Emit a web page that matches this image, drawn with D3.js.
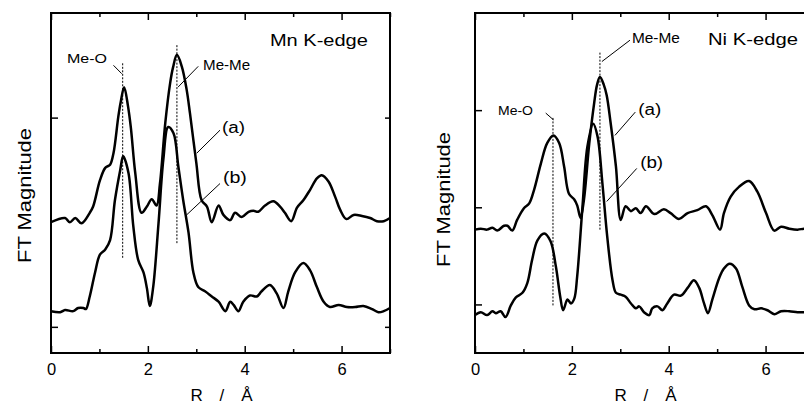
<!DOCTYPE html>
<html>
<head>
<meta charset="utf-8">
<script src="https://cdnjs.cloudflare.com/ajax/libs/d3/7.8.5/d3.min.js"></script>
<style>
    body { margin: 0; background: #fff; }
    svg { display: block; font-family: "Liberation Sans", Arial, sans-serif; }
</style>
</head>
<body>
<svg id="chart"></svg>
<script>
// R axis ticks (Å)
const R_TICKS = [0, 2, 4, 6];
const R_MINOR = [1, 3, 5, 7];

// FT magnitude (arbitrary units) as [R, value]
const MN_A = [
    [0, 1.0], [0.29, 1.04], [0.39, 1.0], [0.5, 1.04], [0.63, 0.99], [0.8, 1.09], [0.87, 1.15],
    [1.01, 1.4], [1.12, 1.52], [1.22, 1.55], [1.29, 1.66], [1.39, 2.01], [1.44, 2.15],
    [1.51, 2.29], [1.59, 2.11], [1.65, 1.9], [1.74, 1.47], [1.87, 1.09], [1.98, 1.15],
    [2.08, 1.22], [2.18, 1.16], [2.25, 1.37], [2.36, 1.95], [2.46, 2.33], [2.52, 2.48],
    [2.6, 2.6], [2.7, 2.49], [2.8, 2.27], [2.87, 2.04], [3.0, 1.57], [3.11, 1.21],
    [3.22, 1.15], [3.32, 1.0], [3.46, 1.16], [3.56, 1.07], [3.7, 1.02], [3.8, 1.09],
    [3.94, 1.05], [4.08, 1.1], [4.18, 1.11], [4.28, 1.1], [4.42, 1.16], [4.59, 1.2],
    [4.73, 1.15], [4.83, 1.09], [4.96, 1.01], [5.08, 1.14], [5.21, 1.21], [5.35, 1.31],
    [5.49, 1.42], [5.59, 1.45], [5.73, 1.39], [5.87, 1.24], [5.97, 1.12], [6.1, 1.03],
    [6.25, 1.07], [6.42, 1.06], [6.59, 1.04], [6.73, 1.01], [6.87, 1.01], [7.0, 1.04]
];
const MN_B = [
    [0, 0.15], [0.19, 0.14], [0.29, 0.16], [0.46, 0.15], [0.56, 0.18], [0.67, 0.18], [0.72, 0.17],
    [0.8, 0.29], [0.91, 0.52], [1.01, 0.69], [1.12, 0.74], [1.22, 0.83], [1.32, 1.21],
    [1.43, 1.5], [1.49, 1.63], [1.6, 1.47], [1.7, 0.96], [1.8, 0.64], [1.91, 0.52],
    [1.98, 0.37], [2.04, 0.2], [2.11, 0.38], [2.22, 0.99], [2.32, 1.6], [2.42, 1.91],
    [2.53, 1.85], [2.63, 1.53], [2.73, 1.21], [2.84, 0.9], [2.94, 0.52], [3.04, 0.38],
    [3.18, 0.34], [3.32, 0.29], [3.46, 0.24], [3.6, 0.15], [3.7, 0.24], [3.77, 0.21],
    [3.87, 0.15], [3.97, 0.24], [4.11, 0.3], [4.25, 0.29], [4.35, 0.34], [4.52, 0.4],
    [4.66, 0.32], [4.8, 0.18], [4.9, 0.34], [5.04, 0.52], [5.21, 0.61], [5.35, 0.54],
    [5.49, 0.38], [5.63, 0.24], [5.76, 0.19], [5.94, 0.21], [6.11, 0.19], [6.28, 0.19],
    [6.45, 0.2], [6.63, 0.17], [6.76, 0.14], [6.87, 0.15], [7.0, 0.18]
];
const NI_A = [
    [0, 0.77], [0.12, 0.78], [0.25, 0.77], [0.36, 0.79], [0.46, 0.76], [0.6, 0.81], [0.67, 0.81],
    [0.77, 0.76], [0.87, 0.87], [1.01, 0.99], [1.12, 1.04], [1.22, 1.18], [1.36, 1.45],
    [1.49, 1.66], [1.62, 1.74], [1.74, 1.66], [1.84, 1.42], [1.94, 1.14], [2.05, 1.08],
    [2.11, 1.02], [2.18, 0.89], [2.25, 1.08], [2.36, 1.66], [2.46, 2.07], [2.52, 2.26],
    [2.58, 2.34], [2.66, 2.26], [2.72, 2.15], [2.8, 1.87], [2.91, 1.42], [3.01, 0.87],
    [3.11, 1.01], [3.22, 0.96], [3.32, 0.99], [3.42, 0.94], [3.53, 1.01], [3.7, 0.93],
    [3.9, 0.98], [4.04, 0.94], [4.21, 0.88], [4.39, 0.94], [4.59, 0.97], [4.77, 1.01],
    [4.9, 0.92], [5.06, 0.77], [5.14, 0.94], [5.28, 1.11], [5.45, 1.21], [5.66, 1.27],
    [5.83, 1.16], [6.01, 0.94], [6.18, 0.76], [6.32, 0.8], [6.49, 0.78], [6.66, 0.77],
    [6.8, 0.78], [7.0, 0.78]
];
const NI_B = [
    [0, -0.11], [0.12, -0.08], [0.25, -0.11], [0.36, -0.07], [0.43, -0.09], [0.53, -0.07],
    [0.63, -0.13], [0.74, -0.01], [0.84, 0.07], [0.98, 0.12], [1.08, 0.22], [1.18, 0.46],
    [1.29, 0.66], [1.43, 0.73], [1.56, 0.65], [1.67, 0.39], [1.76, 0.08], [1.82, -0.06],
    [1.91, 0.05], [1.98, 0.01], [2.05, 0.06], [2.11, 0.29], [2.22, 1.01], [2.32, 1.62],
    [2.44, 1.86], [2.53, 1.73], [2.63, 1.25], [2.73, 0.7], [2.84, 0.25], [2.91, 0.12],
    [3.01, 0.1], [3.11, 0.08], [3.22, 0.01], [3.32, -0.04], [3.39, -0.02], [3.49, -0.08],
    [3.6, -0.11], [3.66, -0.04], [3.77, -0.02], [3.87, -0.06], [3.97, 0.01], [4.11, 0.1],
    [4.25, 0.09], [4.39, 0.17], [4.52, 0.25], [4.63, 0.17], [4.73, 0.01], [4.81, -0.09],
    [4.9, 0.05], [5.04, 0.27], [5.14, 0.37], [5.26, 0.42], [5.39, 0.37], [5.52, 0.18],
    [5.66, -0.01], [5.77, -0.05], [5.91, -0.04], [6.04, -0.06], [6.18, -0.1], [6.32, -0.07],
    [6.49, -0.07], [6.66, -0.08], [6.8, -0.08], [7.0, -0.07]
];

// dashed markers: [R, from, to]
const MN_MARKS = [[1.48, 0.66, 2.52], [2.6, 0.8, 2.7]];
const NI_MARKS = [[1.61, -0.01, 1.92], [2.58, 0.77, 2.6]];

const width = 804;
const height = 405;
const plotTop = 13;
const plotBottom = 353;
const plotWidth = 339;

const svg = d3.select("#chart")
    .attr("width", width)
    .attr("height", height);

const panels = [
    {
        left: 51,
        yDomain: [-0.25, 3.0],
        yTicks: [0, 2],
        series: [MN_A, MN_B],
        marks: MN_MARKS,
        title: { text: "Mn K-edge", r: 4.52, v: 2.685, len: 98 },
        labels: [
            { text: "Me-O", r: 0.33, v: 2.525, size: 13.5, len: 40, lead: [[1.29, 2.5], [1.46, 2.42]] },
            { text: "Me-Me", r: 3.14, v: 2.456, size: 14, len: 47, lead: [[3.04, 2.49], [2.62, 2.29]] },
            { text: "(a)", r: 3.53, v: 1.849, size: 16, len: 23, lead: [[3.49, 1.88], [3.01, 1.66]] },
            { text: "(b)", r: 3.55, v: 1.372, size: 16, len: 24, lead: [[3.49, 1.37], [2.8, 1.07]] }
        ],
        yLabelX: 31,
        yLabelY: 263
    },
    {
        left: 475,
        yDomain: [-0.5, 3.0],
        yTicks: [0, 1, 2],
        series: [NI_A, NI_B],
        marks: NI_MARKS,
        title: { text: "Ni K-edge", r: 4.81, v: 2.671, len: 90 },
        labels: [
            { text: "Me-O", r: 0.475, v: 1.953, size: 13.5, len: 35, lead: [[1.46, 1.97], [1.62, 1.9]] },
            { text: "Me-Me", r: 3.24, v: 2.688, size: 14, len: 48, lead: [[3.2, 2.72], [2.62, 2.5]] },
            { text: "(a)", r: 3.37, v: 1.953, size: 16, len: 23, lead: [[3.31, 1.98], [2.89, 1.74]] },
            { text: "(b)", r: 3.41, v: 1.4, size: 16, len: 23, lead: [[3.34, 1.4], [2.72, 1.06]] }
        ],
        yLabelX: 450,
        yLabelY: 267
    }
];

function styleAxis(g) {
    g.select(".domain").remove();
    g.attr("font-family", null)
        .attr("font-size", 16.5);
    g.selectAll(".tick line")
        .attr("stroke", "#000")
        .attr("stroke-width", 1.5);
    g.selectAll(".tick text").attr("fill", "#000");
}

panels.forEach(p => {
    const x = d3.scaleLinear().domain([0, 7]).range([p.left, p.left + plotWidth]);
    const y = d3.scaleLinear().domain(p.yDomain).range([plotBottom, plotTop]);
    const g = svg.append("g");

    // ticks, all pointing inward
    g.append("g")
        .attr("transform", `translate(0, ${plotBottom})`)
        .call(d3.axisBottom(x).tickValues(R_MINOR).tickSize(-4).tickFormat(""))
        .call(styleAxis);
    g.append("g")
        .attr("transform", `translate(0, ${plotBottom})`)
        .call(d3.axisBottom(x).tickValues(R_TICKS).tickSize(-7).tickPadding(10).tickFormat(d3.format("d")))
        .call(styleAxis);
    g.append("g")
        .attr("transform", `translate(0, ${plotTop})`)
        .call(d3.axisTop(x).tickValues(R_MINOR).tickSize(-4).tickFormat(""))
        .call(styleAxis);
    g.append("g")
        .attr("transform", `translate(0, ${plotTop})`)
        .call(d3.axisTop(x).tickValues(R_TICKS).tickSize(-7).tickFormat(""))
        .call(styleAxis);
    g.append("g")
        .attr("transform", `translate(${p.left}, 0)`)
        .call(d3.axisLeft(y).tickValues(p.yTicks).tickSize(-7).tickFormat(""))
        .call(styleAxis);
    g.append("g")
        .attr("transform", `translate(${p.left + plotWidth}, 0)`)
        .call(d3.axisRight(y).tickValues(p.yTicks).tickSize(-5).tickFormat(""))
        .call(styleAxis);

    // frame
    g.append("rect")
        .attr("x", p.left)
        .attr("y", plotTop)
        .attr("width", plotWidth)
        .attr("height", plotBottom - plotTop)
        .attr("fill", "none")
        .attr("stroke", "#000")
        .attr("stroke-width", 2);

    // dashed markers
    g.selectAll(".mark")
        .data(p.marks)
        .enter()
        .append("line")
        .attr("class", "mark")
        .attr("x1", d => x(d[0]))
        .attr("x2", d => x(d[0]))
        .attr("y1", d => y(d[1]))
        .attr("y2", d => y(d[2]))
        .attr("stroke", "#000")
        .attr("stroke-width", 1)
        .attr("stroke-dasharray", "2,1.5");

    const line = d3.line()
        .x(d => x(d[0]))
        .y(d => y(d[1]))
        .curve(d3.curveCatmullRom.alpha(0.5));

    g.selectAll(".curve")
        .data(p.series)
        .enter()
        .append("path")
        .attr("class", "curve")
        .attr("d", line)
        .attr("fill", "none")
        .attr("stroke", "#000")
        .attr("stroke-width", 2.5)
        .attr("stroke-linejoin", "round");

    // annotation leaders and labels
    g.selectAll(".lead")
        .data(p.labels)
        .enter()
        .append("line")
        .attr("class", "lead")
        .attr("x1", d => x(d.lead[0][0]))
        .attr("y1", d => y(d.lead[0][1]))
        .attr("x2", d => x(d.lead[1][0]))
        .attr("y2", d => y(d.lead[1][1]))
        .attr("stroke", "#000")
        .attr("stroke-width", 1);

    g.selectAll(".label")
        .data(p.labels)
        .enter()
        .append("text")
        .attr("class", "label")
        .attr("x", d => x(d.r))
        .attr("y", d => y(d.v))
        .attr("font-size", d => d.size)
        .attr("textLength", d => d.len)
        .attr("lengthAdjust", "spacingAndGlyphs")
        .text(d => d.text);

    g.append("text")
        .attr("x", x(p.title.r))
        .attr("y", y(p.title.v))
        .attr("font-size", 17)
        .attr("textLength", p.title.len)
        .attr("lengthAdjust", "spacingAndGlyphs")
        .text(p.title.text);

    // axis titles
    g.append("text")
        .attr("x", p.left + 139.5)
        .attr("y", 401)
        .attr("font-size", 17)
        .attr("textLength", 62)
        .attr("lengthAdjust", "spacing")
        .text("R / Å");

    g.append("text")
        .attr("transform", `translate(${p.yLabelX}, ${p.yLabelY}) rotate(-90)`)
        .attr("font-size", 17.5)
        .attr("textLength", 135)
        .attr("lengthAdjust", "spacingAndGlyphs")
        .text("FT Magnitude");
});
</script>
</body>
</html>
